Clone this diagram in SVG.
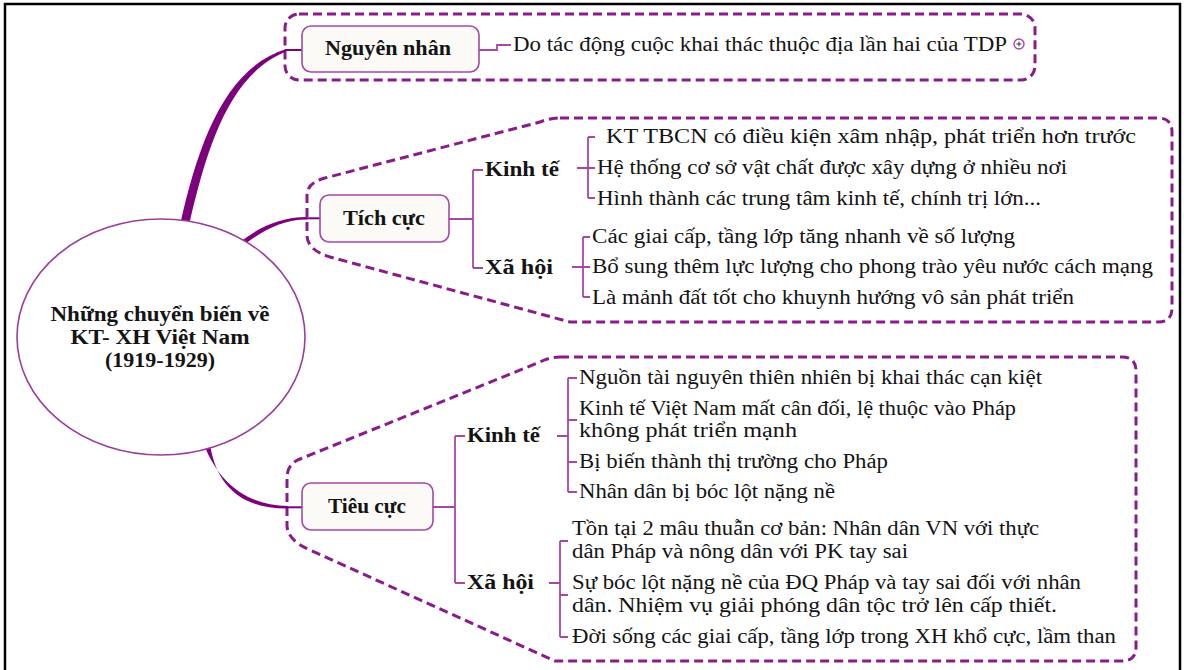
<svg xmlns="http://www.w3.org/2000/svg" width="1184" height="670" viewBox="0 0 1184 670">
<style>
.t{font-family:"Liberation Serif","DejaVu Serif","Times New Roman",serif;font-size:20px;fill:#141414;}
.b{font-weight:bold;}
.grp{fill:none;stroke:#8a1c8a;stroke-width:3;stroke-dasharray:9 5;}
.box{fill:#fbfaf7;stroke:#a548a5;stroke-width:1.6;}
.br{fill:none;stroke:#a548a5;stroke-width:1.8;}
.thick{fill:#7d007d;stroke:none;}
.link{fill:none;stroke:#7d007d;stroke-width:2;}
</style>
<rect width="1184" height="670" fill="#ffffff"/>
<path d="M5,672 V4 H1180 V672" fill="none" stroke="#000" stroke-width="2.5"/>

<!-- dashed boundaries around each branch -->
<g id="boundaries">
  <rect class="grp" x="285" y="14" width="750" height="66" rx="14"/>
  <path class="grp" d="M560,118 H1158 Q1172,118 1172,132 V308 Q1172,322 1158,322 H570 L330,257 Q307,250 307,235 V195 Q307,183 325,178 L540,122 Q550,118 560,118 Z"/>
  <path class="grp" d="M560,357 H1122 Q1136,357 1136,371 V647 Q1136,661 1122,661 H555 L310,550 Q287,540 287,525 V478 Q287,464 300,459 L540,362 Q550,357 560,357 Z"/>
</g>

<!-- connectors -->
<g id="connectors">
  <path class="thick" d="M180,225 C199,140 226,68 286,49 L286,51.5 C231,74 208,142 189,225 Z"/>
  <path class="link" d="M285,50 H302"/>
  <path class="thick" d="M240,242 C258,228 280,217 307,217 L307,219.5 C283,219.5 264,230 245,244 Z"/>
  <path class="link" d="M306,218.3 H320"/>
  <path class="thick" d="M204,445 C221,487 250,505 288,506 L288,508.5 C247,509 217,491 210,444 Z"/>
  <path class="link" d="M287,507.3 H302"/>

  <path class="br" d="M479,50 H497 V45 H511"/>

  <path class="br" d="M449,219 H473 M473,170 V268 M473,170 H483 M473,268 H483"/>
  <path class="br" d="M577,168 H595 M588,137 V198 M588,137 H595 M588,198 H595"/>
  <path class="br" d="M572,267 H590 M583,237 V297 M583,237 H590 M583,297 H590"/>

  <path class="br" d="M433,507 H455 M455,436 V583 M455,436 H465 M455,583 H465"/>
  <path class="br" d="M557,436 H568 M568,378 V492 M568,378 H577 M568,420 H577 M568,462 H577 M568,492 H577"/>
  <path class="br" d="M549,583 H560 M560,541 V637 M560,541 H568 M560,595 H568 M560,637 H568"/>
</g>

<!-- central topic -->
<g id="center">
  <ellipse cx="161" cy="337" rx="144" ry="118" fill="#ffffff" stroke="#9b3d9b" stroke-width="1.6"/>
  <text class="t b" x="160" y="321" text-anchor="middle" textLength="219" lengthAdjust="spacingAndGlyphs">Những chuyển biến về</text>
  <text class="t b" x="160" y="344" text-anchor="middle" textLength="179" lengthAdjust="spacingAndGlyphs">KT- XH Việt Nam</text>
  <text class="t b" x="160" y="367" text-anchor="middle" textLength="110" lengthAdjust="spacingAndGlyphs">(1919-1929)</text>
</g>

<!-- Nguyên nhân -->
<g id="nguyen-nhan">
  <rect class="box" x="302" y="26" width="177" height="46" rx="9"/>
  <text class="t b" x="325" y="55" textLength="126" lengthAdjust="spacingAndGlyphs">Nguyên nhân</text>
</g>
<g id="nguyen-nhan-1">
  <text class="t" x="513" y="51" textLength="494" lengthAdjust="spacingAndGlyphs">Do tác động cuộc khai thác thuộc địa lần hai của TDP</text>
  <circle cx="1019" cy="44" r="5" fill="none" stroke="#a548a5" stroke-width="1.4"/>
  <path d="M1016.5,44 H1021.5 M1019,41.5 V46.5" stroke="#333" stroke-width="1"/>
</g>

<!-- Tích cực -->
<g id="tich-cuc">
  <rect class="box" x="320" y="195" width="129" height="47" rx="9"/>
  <text class="t b" x="343" y="225" textLength="82" lengthAdjust="spacingAndGlyphs">Tích cực</text>
</g>
<g id="tich-cuc-kinh-te">
  <text class="t b" x="485" y="176" textLength="74" lengthAdjust="spacingAndGlyphs">Kinh tế</text>
  <text class="t" x="606" y="143" textLength="530" lengthAdjust="spacingAndGlyphs">KT TBCN có điều kiện xâm nhập, phát triển hơn trước</text>
  <text class="t" x="597" y="174" textLength="470" lengthAdjust="spacingAndGlyphs">Hệ thống cơ sở vật chất được xây dựng ở nhiều nơi</text>
  <text class="t" x="597" y="205" textLength="444" lengthAdjust="spacingAndGlyphs">Hình thành các trung tâm kinh tế, chính trị lớn...</text>
</g>
<g id="tich-cuc-xa-hoi">
  <text class="t b" x="485" y="274" textLength="68" lengthAdjust="spacingAndGlyphs">Xã hội</text>
  <text class="t" x="592" y="243" textLength="423" lengthAdjust="spacingAndGlyphs">Các giai cấp, tầng lớp tăng nhanh về số lượng</text>
  <text class="t" x="592" y="273" textLength="561" lengthAdjust="spacingAndGlyphs">Bổ sung thêm lực lượng cho phong trào yêu nước cách mạng</text>
  <text class="t" x="592" y="304" textLength="482" lengthAdjust="spacingAndGlyphs">Là mảnh đất tốt cho khuynh hướng vô sản phát triển</text>
</g>

<!-- Tiêu cực -->
<g id="tieu-cuc">
  <rect class="box" x="302" y="483" width="131" height="47" rx="9"/>
  <text class="t b" x="328" y="513" textLength="78" lengthAdjust="spacingAndGlyphs">Tiêu cực</text>
</g>
<g id="tieu-cuc-kinh-te">
  <text class="t b" x="467" y="442" textLength="73" lengthAdjust="spacingAndGlyphs">Kinh tế</text>
  <text class="t" x="579" y="384" textLength="463" lengthAdjust="spacingAndGlyphs">Nguồn tài nguyên thiên nhiên bị khai thác cạn kiệt</text>
  <text class="t" x="579" y="415" textLength="437" lengthAdjust="spacingAndGlyphs">Kinh tế Việt Nam mất cân đối, lệ thuộc vào Pháp</text>
  <text class="t" x="579" y="437" textLength="218" lengthAdjust="spacingAndGlyphs">không phát triển mạnh</text>
  <text class="t" x="579" y="468" textLength="309" lengthAdjust="spacingAndGlyphs">Bị biến thành thị trường cho Pháp</text>
  <text class="t" x="579" y="498" textLength="256" lengthAdjust="spacingAndGlyphs">Nhân dân bị bóc lột nặng nề</text>
</g>
<g id="tieu-cuc-xa-hoi">
  <text class="t b" x="467" y="589" textLength="67" lengthAdjust="spacingAndGlyphs">Xã hội</text>
  <text class="t" x="572" y="535" textLength="467" lengthAdjust="spacingAndGlyphs">Tồn tại 2 mâu thuẫn cơ bản: Nhân dân VN với thực</text>
  <text class="t" x="572" y="558" textLength="336" lengthAdjust="spacingAndGlyphs">dân Pháp và nông dân với PK tay sai</text>
  <text class="t" x="572" y="589" textLength="509" lengthAdjust="spacingAndGlyphs">Sự bóc lột nặng nề của ĐQ Pháp và tay sai đối với nhân</text>
  <text class="t" x="572" y="612" textLength="485" lengthAdjust="spacingAndGlyphs">dân. Nhiệm vụ giải phóng dân tộc trở lên cấp thiết.</text>
  <text class="t" x="572" y="643" textLength="544" lengthAdjust="spacingAndGlyphs">Đời sống các giai cấp, tầng lớp trong XH khổ cực, lầm than</text>
</g>
</svg>
